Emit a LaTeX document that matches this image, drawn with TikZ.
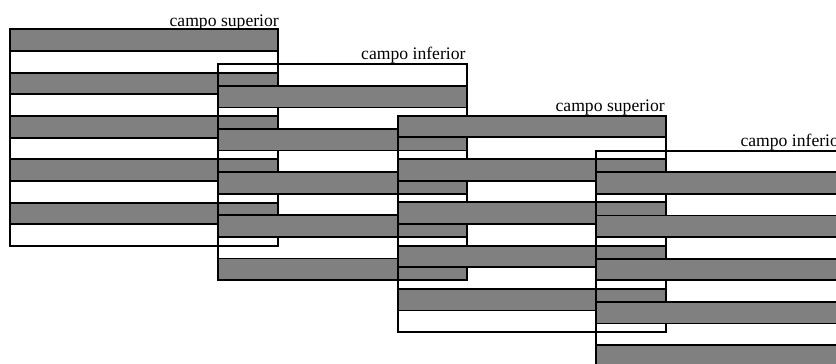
\documentclass[tikz,border=0pt]{standalone}
\usepackage{fontspec}
\setmainfont{Liberation Serif}
\definecolor{fieldgray}{HTML}{808080}
\begin{document}
\begin{tikzpicture}[x=1bp,y=-1bp,
  stripe/.style={draw=black,line width=1.8bp},
  grayline/.style={stripe,fill=fieldgray},
  lab/.style={font=\fontsize{17.7}{20}\selectfont,inner sep=0pt,anchor=base east}]
\clip (0,0) rectangle (836,363);
\useasboundingbox (0,0) rectangle (836,363);
\foreach \L/\T/\W/\S/\H/\B/\R/\txt/\nm in {
  10/29.3/267.7/0/21.67/26.3/279/campo superior/lab1,
  217.7/64.3/249/1/21.57/59.5/465.7/campo inferior/lab2,
  398.3/115.7/267.4/0/21.65/111/665/campo superior/lab3,
  596/150.7/249/1/21.6/146.7/845/campo inferior/lab4}{
  \foreach \i in {0,...,9}{
    \pgfmathtruncatemacro{\odd}{mod(\i+\S,2)}
    \pgfmathsetmacro{\ya}{\T+\i*\H}
    \pgfmathsetmacro{\yb}{\T+(\i+1)*\H}
    \ifnum\odd=0
      \draw[grayline] (\L,\ya) rectangle (\L+\W,\yb);
    \else
      \draw[stripe] (\L,\ya) rectangle (\L+\W,\yb);
    \fi
  }
  \node[lab] (\nm) at (\R,\B) {\txt};
}
\end{tikzpicture}
\end{document}
